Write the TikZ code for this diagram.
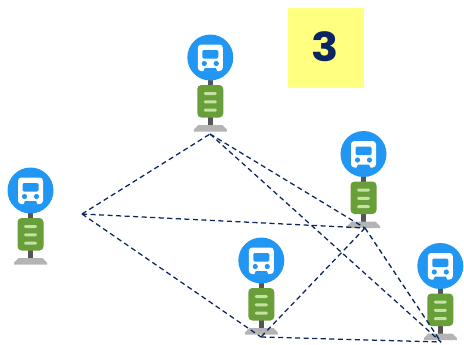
\documentclass[tikz,border=0pt]{standalone}
\usepackage{xcolor}
\usepackage{fontspec}
\setmainfont{Poppins}
\definecolor{busblue}{HTML}{2196F3}
\definecolor{boardgreen}{HTML}{689F38}
\definecolor{barlight}{HTML}{C5E1A5}
\definecolor{postgrey}{HTML}{555555}
\definecolor{basegrey}{HTML}{B4B4B4}
\definecolor{routenavy}{HTML}{0B2560}
\definecolor{notepad}{HTML}{FFFF80}
\tikzset{
  route/.style={draw=routenavy,line width=0.95pt,dash pattern=on 3.8pt off 2.6pt},
  busstop/.pic={
    \begin{scope}[yscale=-1]
    \fill[postgrey] (-2.5,20) rectangle (2.5,70);
    \fill[basegrey] (-12,67.5) -- (12,67.5) -- (16.5,72) -- (16.5,74) -- (-16.5,74) -- (-16.5,72) -- cycle ;
    \fill[boardgreen,rounded corners=3pt] (-13,27.5) rectangle (13,60);
    \fill[barlight,rounded corners=1pt] (-6.5,34.5) rectangle (6.5,37.5);
    \fill[barlight,rounded corners=1pt] (-6.5,42.8) rectangle (6.5,45.8);
    \fill[barlight,rounded corners=1pt] (-6.5,51.2) rectangle (6.5,54.2);
    \fill[busblue] (0,0) circle (23);
    \fill[white,rounded corners=2.5pt] (-12.5,-13) rectangle (12.5,13.5);
    \fill[busblue,rounded corners=1pt] (-8,-7.5) rectangle (8,1);
    \fill[busblue] (-6,6) circle (2.6);
    \fill[busblue] (6,6) circle (2.6);
    \fill[busblue] (-7,14) -- (-5.5,10.5) -- (5.5,10.5) -- (7,14) -- cycle ;
    \end{scope}
  }
}
\begin{document}
\begin{tikzpicture}[x=0.75pt,y=0.75pt,yscale=-1,xscale=1]
\useasboundingbox (0,0) rectangle (464,344);

\fill[notepad] (287.5,7.5) rectangle (364,87.5);
\node[text=routenavy,font=\fontsize{30}{30}\selectfont\bfseries,inner sep=0pt,xscale=1.12] (num) at (325,47) {3};

\pic at (210.3,57.5) {busstop};
\pic at (363.5,154) {busstop};
\pic at (30.5,190.5) {busstop};
\pic at (261.3,260.5) {busstop};
\pic at (440.3,266) {busstop};

\coordinate (stopa) at (82,214);
\coordinate (stopb) at (210,134);
\coordinate (stopc) at (365,228);
\coordinate (stopd) at (261,337);
\coordinate (stope) at (441,342);

\draw[route] (stopa) -- (stopb);
\draw[route] (stopa) -- (stopc);
\draw[route] (stopa) -- (stopd);
\draw[route] (stopb) -- (stopc);
\draw[route] (stopb) -- (stope);
\draw[route] (stopc) -- (stopd);
\draw[route] (stopc) -- (stope);
\draw[route] (stopd) -- (stope);

\end{tikzpicture}
\end{document}
